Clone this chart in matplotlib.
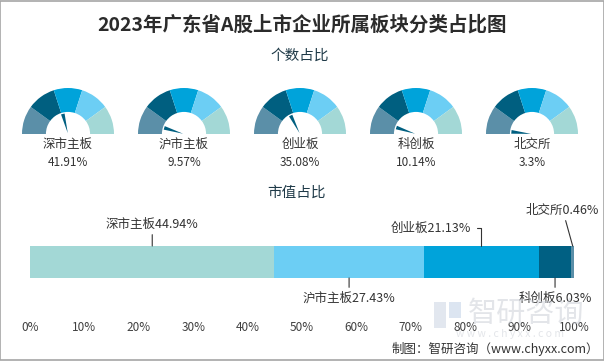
import numpy as np
import matplotlib.pyplot as plt
from matplotlib.patches import Wedge, Polygon, Rectangle

plt.rcParams['font.family'] = ['Noto Sans CJK SC', 'DejaVu Sans']

# data
boards = ['深市主板', '沪市主板', '创业板', '科创板', '北交所']
count_share = [41.91, 9.57, 35.08, 10.14, 3.3]
bar_order = ['深市主板', '沪市主板', '创业板', '科创板', '北交所']
value_share = [44.94, 27.43, 21.13, 6.03, 0.46]
ticks = list(range(0, 101, 10))

gauge_colors = ['#5b8fa8', '#005f80', '#00a3da', '#6ccef4', '#a3d8d6']
bar_colors = ['#a3d8d6', '#6ccef4', '#00a3da', '#006083', '#5b8fa8']
needle_color = '#005f80'
text_color = '#333333'

W, H = 604, 361
fig = plt.figure(figsize=(W / 100, H / 100), dpi=100)

def fx(px):
    return px / W

def fy(py):
    return 1 - py / H

fig.text(fx(302), fy(25), '2023年广东省A股上市企业所属板块分类占比图', ha='center', va='center',
         fontsize=14, fontweight='bold', color='#2b2b2b')
fig.text(fx(300), fy(56), '个数占比', ha='center', va='center', fontsize=10.5, color='#1f3a48')
fig.text(fx(297), fy(193), '市值占比', ha='center', va='center', fontsize=10.5, color='#1f3a48')

# gauges
R = 46
centers = [68, 184, 300, 416, 532]
cy = 134
for cx, name, v in zip(centers, boards, count_share):
    ax = fig.add_axes([fx(cx - 1.05 * R), fy(cy + 0.02 * R), 2.1 * R / W, 1.05 * R / H])
    ax.set_xlim(-1.05, 1.05)
    ax.set_ylim(-0.02, 1.03)
    ax.axis('off')
    for i, c in enumerate(gauge_colors):
        ax.add_patch(Wedge((0, 0), 1.0, 180 - 36 * (i + 1), 180 - 36 * i, width=0.52,
                           facecolor=c, edgecolor='none'))
    th = np.pi * (1 - v / 100)
    d = np.array([np.cos(th), np.sin(th)])
    p = np.array([-np.sin(th), np.cos(th)])
    tip = d * 0.02
    base = d * 0.45
    ax.add_patch(Polygon([tip, base + p * 0.04, base - p * 0.04], closed=True,
                         facecolor=needle_color, edgecolor='none'))
    ax.text(0, -(144 - cy) / R, name, ha='center', va='center', fontsize=9, color=text_color, clip_on=False)
    ax.text(0, -(162 - cy) / R, f'{v}%', ha='center', va='center', fontsize=8.5, color=text_color, clip_on=False)

# stacked bar
bx0, bx1, by0, by1 = 30, 574, 246, 278
bax = fig.add_axes([fx(bx0), fy(by1), (bx1 - bx0) / W, (by1 - by0) / H])
left = 0
mids = []
for val, c in zip(value_share, bar_colors):
    bax.barh(0, val, left=left, height=1, color=c, edgecolor='none')
    mids.append(left + val / 2)
    left += val
bax.set_xlim(0, 100)
bax.set_ylim(-0.5, 0.5)
bax.set_yticks([])
bax.set_xticks(ticks)
bax.set_xticklabels([f'{t}%' for t in ticks])
bax.tick_params(axis='x', length=0, pad=31, labelsize=8.5, labelcolor='#404040')
for s in bax.spines.values():
    s.set_visible(False)

px = 0.72  # points per pixel
lbl = [f'{n}{v}%' for n, v in zip(bar_order, value_share)]
line = dict(arrowstyle='-', color='#333333', lw=0.8, shrinkA=1, shrinkB=0)
bax.annotate(lbl[0], xy=(mids[0], 0.5), xytext=(0, 22 * px), textcoords='offset points',
             ha='center', va='center', fontsize=9, color=text_color, arrowprops=line)
bax.annotate(lbl[1], xy=(mids[1], -0.5), xytext=(0, -20 * px), textcoords='offset points',
             ha='center', va='center', fontsize=9, color=text_color, arrowprops=line)
bax.annotate(lbl[2], xy=(mids[2], 0.5), xytext=(-10 * px, 18 * px), textcoords='offset points',
             ha='right', va='center', fontsize=9, color=text_color,
             arrowprops=dict(line, relpos=(1, 0.5), shrinkA=2,
                             connectionstyle='angle,angleA=0,angleB=90,rad=0'))
bax.annotate(lbl[3], xy=(mids[3], -0.5), xytext=(0, -20 * px), textcoords='offset points',
             ha='center', va='center', fontsize=9, color=text_color, arrowprops=line)
bax.annotate(lbl[4], xy=(mids[4], 0.5), xytext=(-10 * px, 36 * px), textcoords='offset points',
             ha='center', va='center', fontsize=9, color=text_color, arrowprops=line)

# watermark (faint, sits behind the tick labels like in the original)
fig.text(fx(526), fy(314), '智研咨询', ha='center', va='center', fontsize=21, color='#c8ccd4',
         alpha=0.5, zorder=0)
fig.text(fx(510), fy(334), 'w w w . c h y x x . c o m', ha='center', va='center', fontsize=7.5,
         color='#c8ccd4', alpha=0.5, zorder=0)
fig.patches.append(Rectangle((fx(434), fy(328)), 12 / W, 26 / H, transform=fig.transFigure,
                             facecolor='#b8c4d8', alpha=0.4, edgecolor='none'))
fig.patches.append(Rectangle((fx(449), fy(318)), 12 / W, 16 / H, transform=fig.transFigure,
                             facecolor='#a8c0dc', alpha=0.4, edgecolor='none'))

fig.text(fx(599), fy(349), '制图：智研咨询（www.chyxx.com）', ha='right', va='center',
         fontsize=9, color=text_color)

fig.patches.append(Rectangle((0.0008, 0.0014), 0.9984, 0.9972, transform=fig.transFigure,
                             facecolor='none', edgecolor='#a6a6a6', linewidth=1.2))

fig.savefig('out.png', dpi=100)
